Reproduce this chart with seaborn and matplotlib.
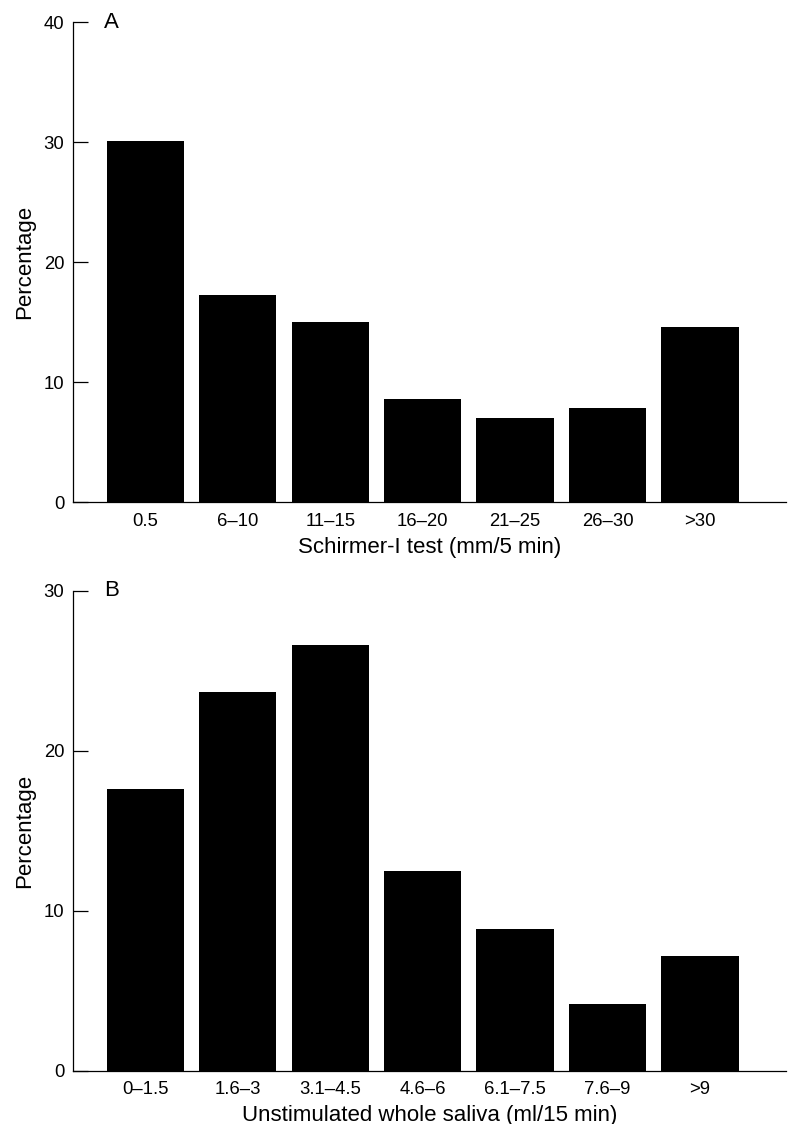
import matplotlib
matplotlib.use("Agg")
import matplotlib.pyplot as plt
import seaborn as sns
import pandas as pd

# panel A: Schirmer-I test
schirmer_bins = ["0.5", "6–10", "11–15", "16–20", "21–25", "26–30", ">30"]
schirmer_pct = [30.1, 17.25, 15.0, 8.65, 7.0, 7.9, 14.6]

# panel B: unstimulated whole saliva
saliva_bins = ["0–1.5", "1.6–3", "3.1–4.5", "4.6–6", "6.1–7.5", "7.6–9", ">9"]
saliva_pct = [17.6, 23.7, 26.6, 12.5, 8.875, 4.2, 7.15]

panels = [
    ("A", schirmer_bins, schirmer_pct, "Schirmer-I test (mm/5 min)", 40, [0, 10, 20, 30, 40]),
    ("B", saliva_bins, saliva_pct, "Unstimulated whole saliva (ml/15 min)", 30, [0, 10, 20, 30]),
]


def main():
    sns.set_theme(style="white")
    plt.rcParams["font.family"] = ["Liberation Sans", "DejaVu Sans"]
    plt.rcParams["figure.facecolor"] = "white"

    W, H = 788, 1124
    fig = plt.figure(figsize=(W / 100, H / 100), dpi=100)

    left_px, right_px = 72.7, 786
    tops_px = [22.3, 590.7]
    height_px = 480

    for (letter, cats, vals, xlabel, ymax, yticks), top_px in zip(panels, tops_px):
        ax = fig.add_axes([
            left_px / W,
            1 - (top_px + height_px) / H,
            (right_px - left_px) / W,
            height_px / H,
        ])
        df = pd.DataFrame({"bin": cats, "pct": vals})
        sns.barplot(data=df, x="bin", y="pct", color="black", saturation=1,
                    width=0.836, edgecolor="none", ax=ax)

        ax.set_xlim(-0.785, 6.93)
        ax.set_ylim(0, ymax)
        ax.set_yticks(yticks)
        sns.despine(ax=ax, top=True, right=True)
        for side in ["left", "bottom"]:
            ax.spines[side].set_linewidth(0.9)
            ax.spines[side].set_color("black")

        ax.tick_params(axis="y", direction="in", length=10.8, width=0.9,
                       pad=6, labelsize=13.3, colors="black", left=True)
        ax.tick_params(axis="x", length=0, pad=7.5, labelsize=13.3, colors="black")

        ax.set_xlabel(xlabel, fontsize=16, labelpad=5, color="black")
        ax.set_ylabel("Percentage", fontsize=16, labelpad=6, color="black")
        ax.text(0.044, 1.0, letter, transform=ax.transAxes, fontsize=16,
                va="center", ha="left", color="black")

    fig.savefig("out.png", dpi=100, facecolor="white")
    plt.close(fig)


if __name__ == "__main__":
    main()
